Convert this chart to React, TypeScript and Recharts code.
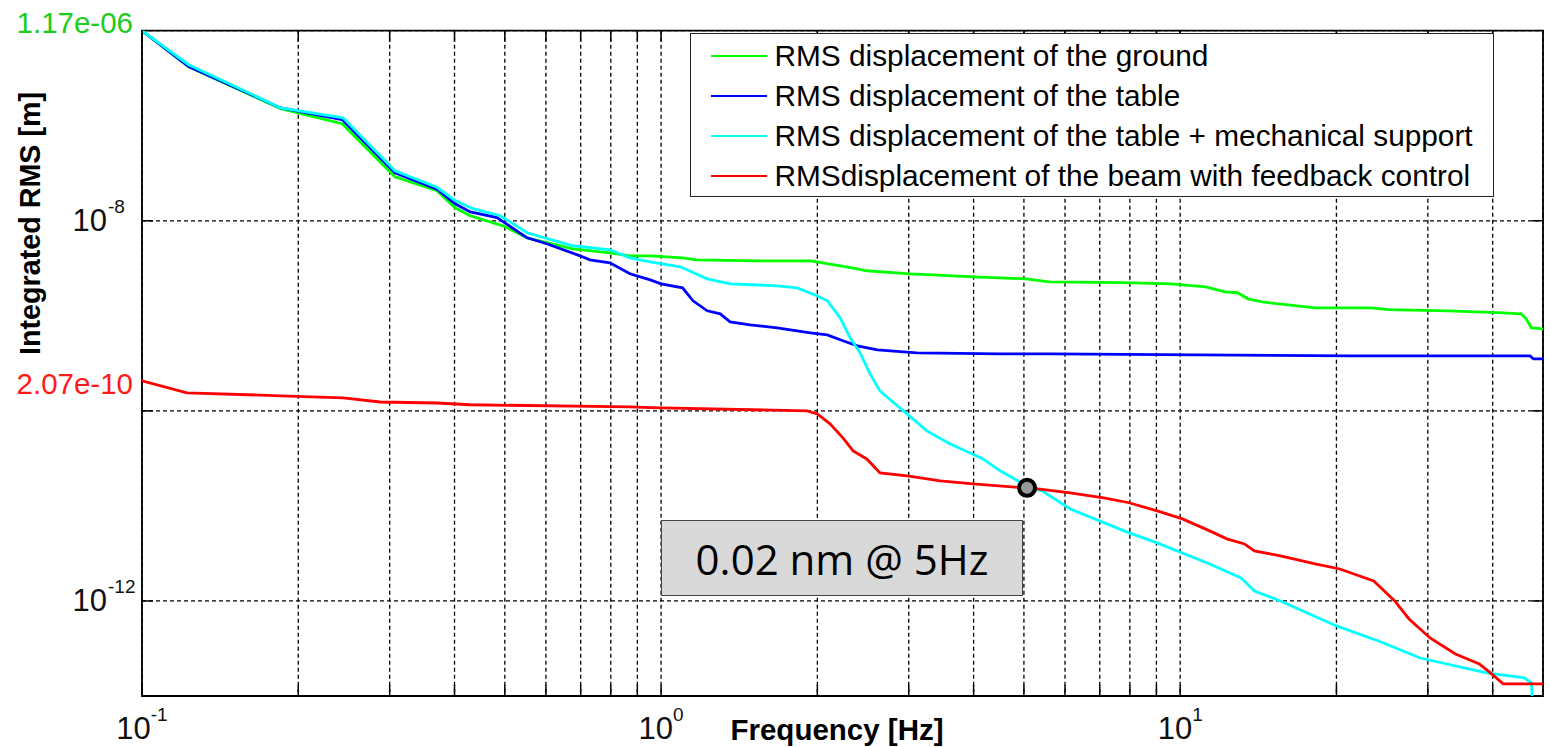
import React from "react";
import { LineChart, Line, XAxis, YAxis, CartesianGrid, Legend, ReferenceDot, ReferenceArea } from "recharts";

type Pt = { f: number; v: number };
const toPts = (rows: number[][]): Pt[] => rows.map(([f, v]) => ({ f, v }));

// frequency [Hz], integrated RMS [m]
const groundRms = toPts([
  [0.1, 1e-6], [0.123, 4.18e-7], [0.185, 1.51e-7], [0.243, 1.05e-7], [0.307, 2.9e-8], [0.37, 2.07e-8],
  [0.401, 1.37e-8], [0.429, 1.13e-8], [0.496, 8.85e-9], [0.552, 6.62e-9], [0.676, 5.07e-9], [0.797, 4.6e-9],
  [0.871, 4.28e-9], [0.953, 4.28e-9], [1.1, 4.08e-9], [1.17, 3.88e-9], [1.53, 3.79e-9], [1.94, 3.79e-9],
  [2.05, 3.61e-9], [2.39, 3.12e-9], [2.49, 2.98e-9], [3.02, 2.77e-9], [3.34, 2.7e-9], [3.99, 2.57e-9],
  [4.5, 2.51e-9], [5.05, 2.45e-9], [5.59, 2.28e-9], [7.73, 2.23e-9], [9.61, 2.17e-9], [11.2, 2.02e-9],
  [12.2, 1.79e-9], [12.9, 1.75e-9], [13.5, 1.51e-9], [14.4, 1.4e-9], [16.8, 1.27e-9], [18.2, 1.21e-9],
  [23.3, 1.21e-9], [25.2, 1.16e-9], [32.8, 1.13e-9], [40.8, 1.08e-9], [45.4, 1.05e-9], [46.4, 9.29e-10],
  [47.5, 7.48e-10], [50, 7.3e-10],
]);

const tableRms = toPts([
  [0.1, 1e-6], [0.123, 4.2e-7], [0.185, 1.54e-7], [0.243, 1.16e-7], [0.307, 3.2e-8], [0.37, 2.15e-8],
  [0.401, 1.51e-8], [0.429, 1.24e-8], [0.483, 1.08e-8], [0.552, 6.62e-9], [0.602, 5.73e-9], [0.698, 4.28e-9],
  [0.729, 3.88e-9], [0.797, 3.61e-9], [0.871, 2.77e-9], [0.953, 2.39e-9], [1.0, 2.17e-9], [1.1, 1.97e-9],
  [1.152, 1.44e-9], [1.227, 1.13e-9], [1.3, 1.05e-9], [1.358, 8.65e-10], [1.484, 8.04e-10], [1.673, 7.48e-10],
  [1.94, 6.62e-10], [2.09, 6.31e-10], [2.24, 5.46e-10], [2.39, 4.83e-10], [2.61, 4.39e-10], [3.11, 4.08e-10],
  [4.5, 3.98e-10], [5.62, 3.98e-10], [21.3, 3.79e-10], [47.2, 3.79e-10], [47.9, 3.53e-10], [50, 3.53e-10],
]);

const supportRms = toPts([
  [0.1, 1e-6], [0.123, 4.39e-7], [0.185, 1.54e-7], [0.244, 1.21e-7], [0.307, 3.36e-8], [0.37, 2.25e-8],
  [0.401, 1.63e-8], [0.434, 1.34e-8], [0.49, 1.13e-8], [0.552, 7.48e-9], [0.676, 5.46e-9], [0.797, 4.95e-9],
  [0.871, 4.08e-9], [0.953, 3.7e-9], [1.088, 3.28e-9], [1.227, 2.45e-9], [1.358, 2.17e-9], [1.673, 2.07e-9],
  [1.828, 1.97e-9], [2.0, 1.62e-9], [2.09, 1.44e-9], [2.213, 9.52e-10], [2.313, 5.87e-10], [2.417, 4.08e-10],
  [2.527, 2.45e-10], [2.64, 1.62e-10], [2.93, 1.0e-10], [3.25, 6.16e-11], [3.6, 4.5e-11], [3.94, 3.61e-11],
  [4.17, 3.12e-11], [4.5, 2.34e-11], [5.14, 1.55e-11], [5.42, 1.44e-11], [6.14, 9.29e-12], [7.97, 5.2e-12],
  [9.03, 4.08e-12], [11.4, 2.45e-12], [13.1, 1.75e-12], [13.9, 1.27e-12], [15.6, 1.0e-12], [20.0, 5.46e-13],
  [24.1, 3.79e-13], [29.0, 2.51e-13], [38.9, 1.75e-13], [46.0, 1.55e-13], [47.5, 1.37e-13], [48.0, 5e-14],
]);

const beamRms = toPts([
  [0.1, 2.07e-10], [0.122, 1.55e-10], [0.185, 1.44e-10], [0.244, 1.37e-10], [0.2875, 1.24e-10], [0.37, 1.21e-10],
  [0.429, 1.16e-10], [0.871, 1.1e-10], [0.953, 1.08e-10], [1.91, 1.0e-10], [2.0, 9.29e-11], [2.116, 7.3e-11],
  [2.24, 5.2e-11], [2.344, 3.79e-11], [2.49, 3.12e-11], [2.64, 2.23e-11], [2.98, 2.07e-11], [3.45, 1.83e-11],
  [3.99, 1.71e-11], [4.98, 1.55e-11], [5.32, 1.51e-11], [6.14, 1.37e-11], [7.17, 1.21e-11], [7.97, 1.08e-11],
  [9.03, 8.85e-12], [10.1, 7.3e-12], [11.4, 5.46e-12], [12.3, 4.5e-12], [13.3, 3.98e-12], [13.9, 3.36e-12],
  [15.6, 2.98e-12], [18.2, 2.45e-12], [20.3, 2.17e-12], [23.6, 1.62e-12], [25.9, 1.0e-12], [27.6, 6.47e-13],
  [30.3, 4.08e-13], [33.9, 2.77e-13], [37.7, 2.17e-13], [39.6, 1.75e-13], [41.9, 1.34e-13], [50, 1.34e-13],
]);

const X_TICKS = [0.1, 0.2, 0.3, 0.4, 0.5, 0.6, 0.7, 0.8, 0.9, 1, 2, 3, 4, 5, 6, 7, 8, 9, 10, 20, 30, 40];
const Y_TICKS = [1e-12, 1e-10, 1e-8];
const X_DOMAIN = [0.1, 50];
const Y_DOMAIN = [1e-13, 1e-6];
const MARK = { f: 5.07, v: 1.55e-11 };

const W = 1550;
const H = 747;
const PLOT_TOP = 30.7;
const PLOT_BOTTOM = 696;
const PLOT_LEFT = 142;
const PLOT_RIGHT = 1543;
const TICK_LEN = 11;
const FONT = '"Liberation Sans", Arial, sans-serif';

function XTick(props: any) {
  const { x, payload } = props;
  const lg = Math.log10(payload.value);
  const exp = Math.round(lg);
  const major = Math.abs(lg - exp) < 1e-6;
  return (
    <g>
      <line x1={x} x2={x} y1={PLOT_BOTTOM} y2={PLOT_BOTTOM - TICK_LEN} stroke="#000" strokeWidth={1.5} />
      <line x1={x} x2={x} y1={PLOT_TOP} y2={PLOT_TOP + TICK_LEN} stroke="#000" strokeWidth={1.5} />
      {major && (
        <text x={x} y={739} textAnchor="middle" fontFamily={FONT} fill="#111">
          <tspan fontSize={31}>10</tspan>
          <tspan fontSize={19} dy={-18}>{String(exp)}</tspan>
        </text>
      )}
    </g>
  );
}

function YTick(props: any) {
  const { y, payload } = props;
  const exp = Math.round(Math.log10(payload.value));
  return (
    <g>
      <line x1={PLOT_LEFT} x2={PLOT_LEFT + TICK_LEN} y1={y} y2={y} stroke="#000" strokeWidth={1.5} />
      <line x1={PLOT_RIGHT} x2={PLOT_RIGHT - TICK_LEN} y1={y} y2={y} stroke="#000" strokeWidth={1.5} />
      {exp !== -10 && (
        <g fontFamily={FONT} fill="#111">
          <text x={107} y={y + 10} textAnchor="end" fontSize={31}>10</text>
          <text x={108} y={y - 8} fontSize={19}>{String(exp)}</text>
        </g>
      )}
    </g>
  );
}

function LegendBox(props: any) {
  const items = props.payload || [];
  return (
    <div style={{ width: 804, height: 164, boxSizing: "border-box", border: "1.5px solid #222", background: "#fff", paddingTop: 2 }}>
      {items.map((it: any) => (
        <div key={it.value} style={{ display: "flex", alignItems: "center", height: 40 }}>
          <div style={{ width: 56, borderTop: `2.5px solid ${it.color}`, marginLeft: 19.5, marginRight: 8 }} />
          <span style={{ fontSize: 29.8, fontFamily: FONT, color: "#000", whiteSpace: "nowrap", lineHeight: "40px" }}>{it.value}</span>
        </div>
      ))}
    </div>
  );
}

export default function App() {
  return (
    <div style={{ position: "absolute", left: 0, top: 0, width: W, height: H, background: "#fff" }}>
      <LineChart width={W} height={H} margin={{ top: PLOT_TOP, right: W - PLOT_RIGHT, bottom: 0, left: 0 }}>
        <CartesianGrid stroke="#000" strokeWidth={1.3} strokeDasharray="4 3" />
        <XAxis
          dataKey="f"
          type="number"
          scale="log"
          domain={X_DOMAIN}
          allowDataOverflow
          ticks={X_TICKS}
          interval={0}
          height={H - PLOT_BOTTOM}
          axisLine={false}
          tickLine={false}
          tick={<XTick />}
        />
        <YAxis
          type="number"
          scale="log"
          domain={Y_DOMAIN}
          allowDataOverflow
          ticks={Y_TICKS}
          interval={0}
          width={PLOT_LEFT}
          axisLine={false}
          tickLine={false}
          tick={<YTick />}
        />
        <Legend
          content={<LegendBox />}
          layout="vertical"
          align="center"
          verticalAlign="middle"
          wrapperStyle={{ position: "absolute", left: 690, top: 33, width: 804, height: 164 }}
        />
        <Line data={groundRms} dataKey="v" name="RMS displacement of the ground" stroke="#00ff00" strokeWidth={2.8} dot={false} type="linear" isAnimationActive={false} />
        <Line data={tableRms} dataKey="v" name="RMS displacement of the table" stroke="#0000ff" strokeWidth={2.8} dot={false} type="linear" isAnimationActive={false} />
        <Line data={supportRms} dataKey="v" name="RMS displacement of the table + mechanical support" stroke="#00ffff" strokeWidth={2.8} dot={false} type="linear" isAnimationActive={false} />
        <Line data={beamRms} dataKey="v" name="RMSdisplacement of the beam with feedback control" stroke="#ff0000" strokeWidth={2.8} dot={false} type="linear" isAnimationActive={false} />
        <ReferenceArea x1={X_DOMAIN[0]} x2={X_DOMAIN[1]} y1={Y_DOMAIN[0]} y2={Y_DOMAIN[1]} fill="none" fillOpacity={0} stroke="#000" strokeWidth={1.8} ifOverflow="visible" />
        <ReferenceDot x={MARK.f} y={MARK.v} r={8} fill="#999" stroke="#000" strokeWidth={4} ifOverflow="visible" />
      </LineChart>

      <svg width={W} height={H} style={{ position: "absolute", left: 0, top: 0, pointerEvents: "none" }}>
        <text x={133} y={33} textAnchor="end" fontFamily={FONT} fontSize={29.5} fill="#1ccc1c">1.17e-06</text>
        <text x={133} y={394} textAnchor="end" fontFamily={FONT} fontSize={29.5} fill="#ff1a1a">2.07e-10</text>
        <text x={837} y={740} textAnchor="middle" fontFamily={FONT} fontSize={29.5} fontWeight="bold" fill="#000">Frequency [Hz]</text>
        <text x={40} y={223.5} textAnchor="middle" fontFamily={FONT} fontSize={28.7} fontWeight="bold" fill="#000" transform="rotate(-90 40 223.5)">Integrated RMS [m]</text>
      </svg>

      <div
        style={{
          position: "absolute", left: 661, top: 520, width: 362, height: 76, boxSizing: "border-box",
          background: "#d9d9d9", border: "1.5px solid #444", display: "flex", alignItems: "center",
          justifyContent: "center", fontFamily: '"Open Sans", sans-serif', fontSize: 42, color: "#000",
        }}
      >
        0.02 nm @ 5Hz
      </div>
    </div>
  );
}
